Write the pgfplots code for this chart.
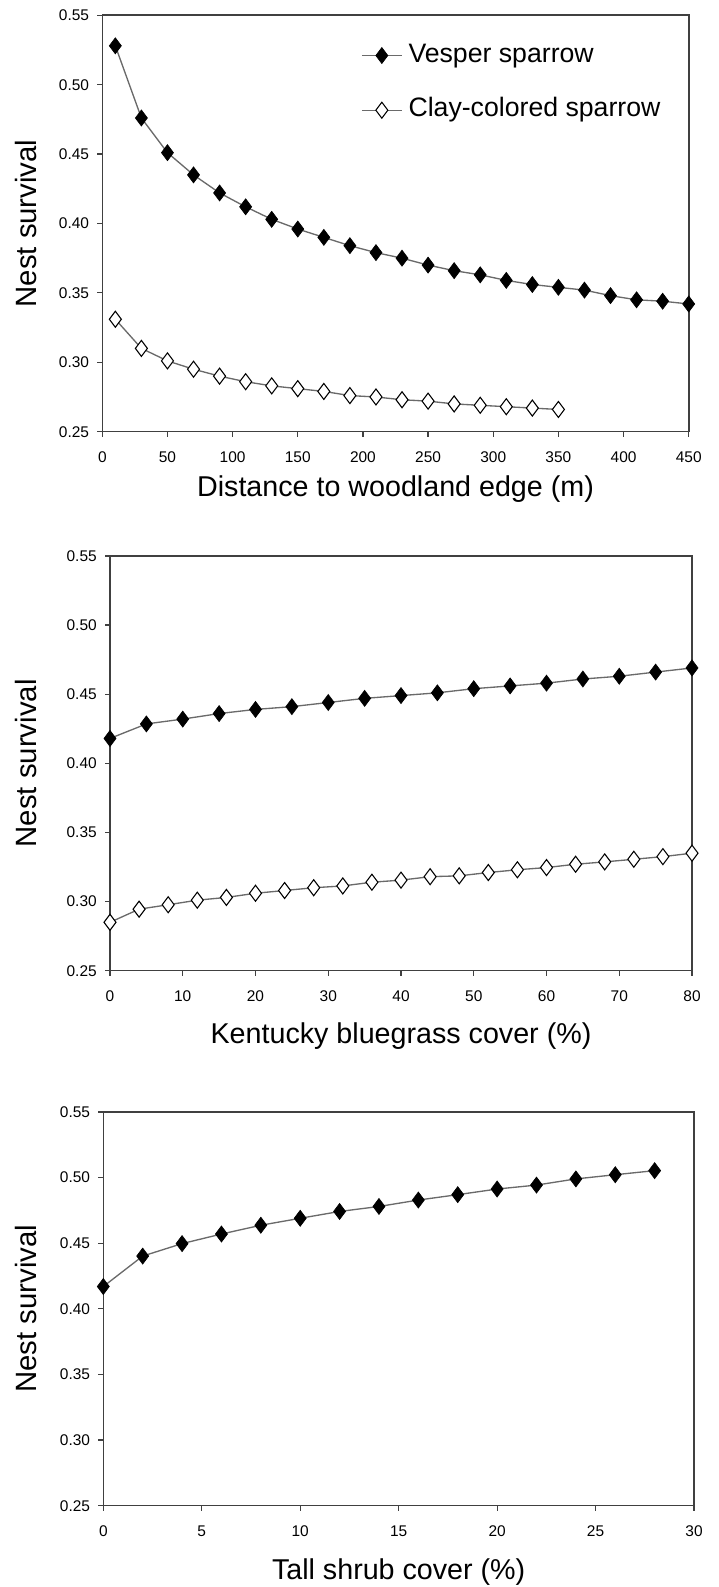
\documentclass[border=0pt]{standalone}
\usepackage{fontspec}
\setmainfont{Liberation Sans}
\usepackage{pgfplots}
\pgfplotsset{compat=1.18}
\definecolor{axisgray}{HTML}{404040}
\definecolor{linegray}{HTML}{6A6A6A}
\pgfplotsset{
  panel/.style={
    scale only axis, clip=false,
    axis line style={draw=axisgray, line width=1.2pt},
    every tick/.style={draw=axisgray, line width=0.9pt},
    tick align=outside, tick pos=left,
    major tick length=3.75pt,
    ymin=0.25, ymax=0.55,
    ytick={0.25,0.30,0.35,0.40,0.45,0.50,0.55},
    yticklabel style={/pgf/number format/fixed, /pgf/number format/fixed zerofill, /pgf/number format/precision=2},
    /pgf/number format/assume math mode=true,
    tick label style={font=\fontsize{11.6}{13}\selectfont, inner sep=0pt},
    xticklabel style={yshift=-11pt},
    yticklabel style={xshift=-6pt},
    every axis y label/.style={rotate=90, anchor=south, inner sep=0pt, font=\fontsize{22}{26}\selectfont},
    every axis x label/.style={anchor=north, inner sep=0pt, font=\fontsize{21.5}{26}\selectfont},
    ylabel={Nest survival},
  },
  vesper/.style={color=linegray, line width=1pt, mark=diamond*, mark size=6pt, mark options={fill=black, draw=black, line width=0.5pt}},
  clay/.style={color=linegray, line width=1pt, mark=diamond*, mark size=6pt, mark options={fill=white, draw=black, line width=0.8pt}},
}
\begin{document}
\begin{tikzpicture}
\useasboundingbox (0,0) rectangle (538.5pt,1190.25pt);
% ---------- top panel
\begin{axis}[panel, at={(76.73pt,866.48pt)}, anchor=south west,
  width=439.8pt, height=312.3pt,
  xmin=0, xmax=450, xtick={0,50,...,450},
  xlabel={Distance to woodland edge (m)},
  xlabel style={at={(axis description cs:0.5,-0.1057)}},
  ylabel style={at={(axis description cs:-0.1118,0.5)}},
  legend style={at={(axis description cs:0.441,0.936)}, anchor=north west, draw=none, fill=none, inner sep=0pt, row sep=21pt,
    nodes={inner sep=0pt, text height=15pt, text depth=5pt, font=\fontsize{20}{24}\selectfont},
    /tikz/every odd column/.style={column sep=4.5pt}},
  legend cell align=left,
  legend image code/.code={\draw[#1, mark repeat=2, mark phase=2] plot coordinates {(0pt,0pt) (15pt,0pt) (30pt,0pt)};},
]
\addplot[vesper] coordinates {
(10,0.528) (30,0.476) (50,0.451) (70,0.435) (90,0.422) (110,0.412) (130,0.403)
(150,0.396) (170,0.390) (190,0.384) (210,0.379) (230,0.375) (250,0.370) (270,0.366)
(290,0.363) (310,0.359) (330,0.356) (350,0.354) (370,0.352) (390,0.348) (410,0.345)
(430,0.344) (450,0.342)};
\addlegendentry{Vesper sparrow}
\addplot[clay] coordinates {
(10,0.331) (30,0.310) (50,0.301) (70,0.295) (90,0.290) (110,0.286) (130,0.283)
(150,0.281) (170,0.279) (190,0.276) (210,0.275) (230,0.273) (250,0.272) (270,0.270)
(290,0.269) (310,0.268) (330,0.267) (350,0.266)};
\addlegendentry{Clay-colored sparrow}
\end{axis}
% ---------- middle panel
\begin{axis}[panel, at={(82.5pt,462.23pt)}, anchor=south west,
  width=436.5pt, height=311.03pt,
  xmin=0, xmax=80, xtick={0,10,...,80},
  xlabel={Kentucky bluegrass cover (\%)},
  xlabel style={at={(axis description cs:0.5,-0.1254)}},
  ylabel style={at={(axis description cs:-0.1254,0.5)}},
]
\addplot[vesper] coordinates {
(0,0.418) (5,0.4285) (10,0.432) (15,0.436) (20,0.439) (25,0.441) (30,0.444)
(35,0.447) (40,0.449) (45,0.451) (50,0.454) (55,0.456) (60,0.458) (65,0.461)
(70,0.463) (75,0.466) (80,0.469)};
\addplot[clay] coordinates {
(0,0.285) (4,0.2945) (8,0.2977) (12,0.301) (16,0.303) (20,0.306) (24,0.308)
(28,0.310) (32,0.3113) (36,0.314) (40,0.3155) (44,0.318) (48,0.3186) (52,0.321)
(56,0.323) (60,0.3246) (64,0.327) (68,0.3287) (72,0.3306) (76,0.3325) (80,0.335)};
\end{axis}
% ---------- bottom panel
\begin{axis}[panel, at={(77.48pt,60.98pt)}, anchor=south west,
  width=443.03pt, height=295.28pt,
  xmin=0, xmax=30, xtick={0,5,...,30},
  xlabel={Tall shrub cover (\%)},
  xlabel style={at={(axis description cs:0.5,-0.1346)}},
  ylabel style={at={(axis description cs:-0.1122,0.5)}},
]
\addplot[vesper] coordinates {
(0,0.417) (2,0.4402) (4,0.4497) (6,0.457) (8,0.4637) (10,0.469) (12,0.4742)
(14,0.478) (16,0.4829) (18,0.487) (20,0.4913) (22,0.4943) (24,0.499) (26,0.5022)
(28,0.5053)};
\end{axis}
\end{tikzpicture}
\end{document}
